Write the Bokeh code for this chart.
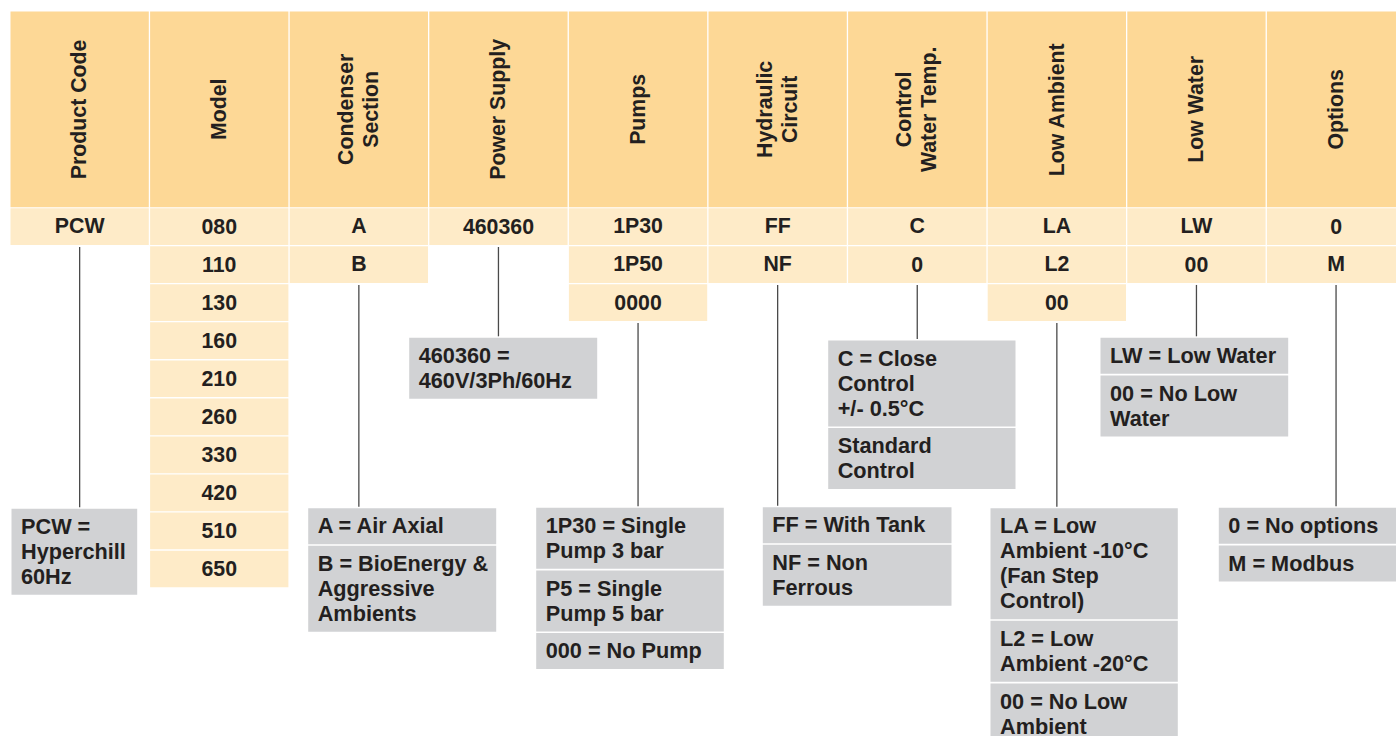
from bokeh.plotting import figure
from bokeh.models import Range1d, ColumnDataSource
from bokeh.core.properties import value
from bokeh.embed import file_html
from bokeh.resources import INLINE
import math

# ---------------- DATA ----------------
headers = [
    ["Product Code"],
    ["Model"],
    ["Condenser", "Section"],
    ["Power Supply"],
    ["Pumps"],
    ["Hydraulic", "Circuit"],
    ["Control", "Water Temp."],
    ["Low Ambient"],
    ["Low Water"],
    ["Options"],
]

codes = [
    ["PCW"],
    ["080", "110", "130", "160", "210", "260", "330", "420", "510", "650"],
    ["A", "B"],
    ["460360"],
    ["1P30", "1P50", "0000"],
    ["FF", "NF"],
    ["C", "0"],
    ["LA", "L2", "00"],
    ["LW", "00"],
    ["0", "M"],
]

descriptions = [
    [["PCW =", "Hyperchill", "60Hz"]],
    [],
    [["A = Air Axial"], ["B = BioEnergy &", "Aggressive", "Ambients"]],
    [["460360 =", "460V/3Ph/60Hz"]],
    [["1P30 = Single", "Pump 3 bar"], ["P5 = Single", "Pump 5 bar"], ["000 = No Pump"]],
    [["FF = With Tank"], ["NF = Non", "Ferrous"]],
    [["C = Close", "Control", "+/- 0.5°C"], ["Standard", "Control"]],
    [["LA = Low", "Ambient -10°C", "(Fan Step", "Control)"], ["L2 = Low", "Ambient -20°C"], ["00 = No Low", "Ambient"]],
    [["LW = Low Water"], ["00 = No Low", "Water"]],
    [["0 = No options"], ["M = Modbus"]],
]

# ---------------- LAYOUT (page pixels) ----------------
W, H = 1396, 736
def px(x):
    return x
def py(y):
    return H - y

X0, PITCH, COLW = 10.0, 139.6, 138.3
HEAD_TOP, HEAD_BOT = 11.0, 206.7
ROW_TOP0, ROW_PITCH, ROW_H = 207.7, 38.05, 36.7
LINE_PITCH = 25.0
TXT_SHIFT = 7.8   # renderer places text lower than the baseline point by about this much
# legend box placement: (left, right, top) per column (None for none)
box_place = [
    (11.0, 136.7, 508.3),
    None,
    (307.7, 495.7, 507.7),
    (408.7, 596.7, 337.3),
    (535.7, 723.3, 507.3),
    (762.3, 951.0, 506.7),
    (827.7, 1015.0, 340.0),
    (990.0, 1177.3, 507.7),
    (1100.0, 1287.7, 337.3),
    (1218.3, 1406.0, 507.3),
]

HEAD_C = "#FDD896"
CELL_C = "#FEEBC8"
BOX_C = "#D1D2D4"
TXT_C = "#231F20"
LINE_C = "#4A4A4A"
FONT = value("Liberation Sans")
FS = "21.3px"
FS_BOX = "21.7px"

p = figure(width=W, height=H, x_range=Range1d(0, W), y_range=Range1d(0, H),
           output_backend="svg", toolbar_location=None, min_border=0)
p.axis.visible = False
p.grid.visible = False
p.outline_line_color = None
p.background_fill_color = "white"
p.border_fill_color = "white"

def col_left(i):
    return X0 + PITCH * i
def col_center(i):
    return col_left(i) + COLW / 2

# header cells
hq = dict(left=[], right=[], top=[], bottom=[])
for i in range(len(headers)):
    hq["left"].append(px(col_left(i)))
    hq["right"].append(px(col_left(i) + COLW))
    hq["top"].append(py(HEAD_TOP))
    hq["bottom"].append(py(HEAD_BOT))
p.quad(source=ColumnDataSource(hq), left="left", right="right", top="top", bottom="bottom",
       fill_color=HEAD_C, line_color=None)

# header texts (rotated)
ht = dict(x=[], y=[], t=[])
for i, lines in enumerate(headers):
    n = len(lines)
    for k, s in enumerate(lines):
        base = col_center(i) + 7.5 - TXT_SHIFT - (n - 1) * LINE_PITCH / 2 + k * LINE_PITCH
        ht["x"].append(px(base))
        ht["y"].append(py((HEAD_TOP + HEAD_BOT) / 2))
        ht["t"].append(s)
p.text(source=ColumnDataSource(ht), x="x", y="y", text="t", angle=math.pi / 2,
       text_align="center", text_baseline="alphabetic", text_font=FONT,
       text_font_style="bold", text_font_size=FS, text_color=TXT_C)

# code cells
cq = dict(left=[], right=[], top=[], bottom=[])
ct = dict(x=[], y=[], t=[])
for i, vals in enumerate(codes):
    for r, v in enumerate(vals):
        top = ROW_TOP0 + r * ROW_PITCH
        cq["left"].append(px(col_left(i)))
        cq["right"].append(px(col_left(i) + COLW))
        cq["top"].append(py(top))
        cq["bottom"].append(py(top + ROW_H))
        ct["x"].append(px(col_center(i)))
        ct["y"].append(py(top + 25.6 - TXT_SHIFT))
        ct["t"].append(v)
p.quad(source=ColumnDataSource(cq), left="left", right="right", top="top", bottom="bottom",
       fill_color=CELL_C, line_color=None)
p.text(source=ColumnDataSource(ct), x="x", y="y", text="t",
       text_align="center", text_baseline="alphabetic", text_font=FONT,
       text_font_style="bold", text_font_size=FS, text_color=TXT_C)

# connectors and description boxes
seg = dict(x0=[], y0=[], x1=[], y1=[])
bq = dict(left=[], right=[], top=[], bottom=[])
bt = dict(x=[], y=[], t=[])
for i, descs in enumerate(descriptions):
    place = box_place[i]
    if place is None or not descs:
        continue
    left, right, top = place
    start = ROW_TOP0 + (len(codes[i]) - 1) * ROW_PITCH + ROW_H + 2.0
    seg["x0"].append(px(col_center(i)))
    seg["x1"].append(px(col_center(i)))
    seg["y0"].append(py(start))
    seg["y1"].append(py(top - 1.5))
    y = top
    for lines in descs:
        h = 11 + LINE_PITCH * len(lines)
        bq["left"].append(px(left))
        bq["right"].append(px(right))
        bq["top"].append(py(y))
        bq["bottom"].append(py(y + h))
        for k, s in enumerate(lines):
            bt["x"].append(px(left + 9.5))
            bt["y"].append(py(y + 25.5 - TXT_SHIFT + k * LINE_PITCH))
            bt["t"].append(s)
        y += h + 1.6

p.segment(source=ColumnDataSource(seg), x0="x0", y0="y0", x1="x1", y1="y1",
          line_color=LINE_C, line_width=1.3)
p.quad(source=ColumnDataSource(bq), left="left", right="right", top="top", bottom="bottom",
       fill_color=BOX_C, line_color=None)
p.text(source=ColumnDataSource(bt), x="x", y="y", text="t",
       text_align="left", text_baseline="alphabetic", text_font=FONT,
       text_font_style="bold", text_font_size=FS_BOX, text_color=TXT_C)

open("out.html", "w").write(file_html(p, INLINE))
